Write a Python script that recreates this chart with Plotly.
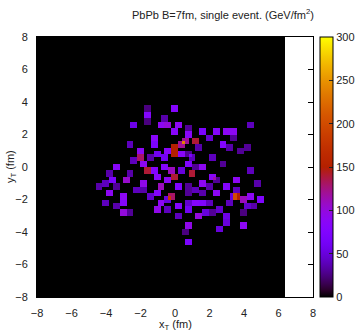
import numpy as np
import plotly.graph_objects as go

# Energy-density blocks (centre x, centre y in fm, value in GeV/fm^2); each block is 0.4 x 0.4 fm
block_x = [0.0, -1.6, -1.6, -2.4, -0.6, -0.8, -0.4, 0.2, 0.8, 0.0, 1.6, 2.4, 3.0, 3.4, 3.4,
           2.8, 3.2, 3.8, 4.2, 4.4,
           0.6, 0.4, 0.0, 0.0, -0.4, 0.4, 0.8, 1.2, 1.4, -1.2, -1.2, -2.0, -2.0, -2.4, -1.8,
           -1.4, -1.0, -0.6, 0.8, 1.6, 1.2, -0.6, -0.2, -1.2, -1.6, -3.4, -3.8, 2.8, 4.4, 0.8,
           -3.6, -2.8, -4.4, -3.8, -3.4, -3.0, -3.0, -3.0, -2.6, -1.8, -1.8,
           -1.0, -0.8, -0.4, 0.0, 1.0, 0.8, 0.2, -0.2, -0.4, -0.8, -1.0, -1.0, 0.2, 0.8, 1.2,
           1.6, 0.8, 1.4, 0.8, 0.6, 0.8, 1.6, 2.2, 1.6, 2.4, 2.2, 0.8,
           3.6, 3.0, 3.6, 3.4, 3.6, 4.4, 4.0, 4.2, 4.6, 4.8, 5.0, 2.6, 3.0, 3.0, 4.0, 4.0, 2.6,
           -1.6, 2.0, 2.2, -2.6, 0.4, 1.2, -1.4, -2.2, 2.0, 1.8, -0.4, 0.2, 3.2, -3.4, -4.0,
           -4.0, 2.0, 2.4, 1.0, -2.6]
block_y = [3.6, 3.2, 3.6, 2.6, 3.0, 2.6, 2.6, 2.6, 2.4, 2.2, 2.2, 2.2, 2.2, 2.2, 1.8,
           1.4, 1.2, 1.0, 1.2, 2.6,
           1.6, 1.4, 1.2, 0.8, 1.0, 0.8, 2.0, 1.6, 1.2, 1.8, 1.4, 1.0, 0.6, 0.4, 0.2,
           0.6, 0.8, 0.6, 0.2, 0.0, 0.0, 0.0, -0.2, -0.2, -0.2, 0.0, -0.4, 0.2, -0.2, 0.8,
           -0.8, -0.8, -1.2, -1.6, -1.2, -1.8, -2.2, -2.8, -2.8, -1.0, -1.4,
           -0.6, -1.2, -0.8, -0.6, -0.4, -1.2, -1.2, -1.8, -2.0, -2.2, -2.6, -1.6, -2.4, -2.2, -2.2,
           -2.2, -2.6, -3.0, -3.6, -4.0, -4.6, -1.0, -0.6, -1.6, -1.6, -2.8, -1.6,
           -0.8, -1.2, -1.8, -1.8, -1.4, -1.8, -2.0, -2.4, -2.4, -1.0, -2.0, -2.6, -3.0, -3.4, -2.8, -3.6, -3.8,
           2.8, 1.8, 0.6, 1.4, -0.2, -1.4, -1.8, -1.4, -2.2, -2.8, -2.6, -3.0, -2.2, -2.4, -2.2,
           -1.0, -1.2, -0.8, 0.6, -0.4]
block_v = [80, 80, 25, 55, 35, 90, 100, 90, 30, 85, 70, 80, 90, 90, 30,
           80, 35, 30, 30, 40,
           120, 120, 150, 150, 85, 85, 85, 140, 35, 85, 70, 90, 130, 40, 90,
           35, 60, 60, 75, 90, 30, 80, 110, 80, 140, 85, 35, 30, 40, 30,
           70, 105, 35, 90, 30, 90, 80, 100, 30, 95, 35,
           85, 110, 90, 140, 140, 30, 75, 130, 50, 90, 95, 80, 80, 45, 80,
           75, 60, 100, 95, 25, 70, 90, 85, 35, 90, 30, 30,
           90, 80, 150, 50, 40, 90, 110, 45, 35, 35, 75, 45, 55, 50, 25, 90, 50,
           25, 45, 40, 40, 50, 40, 45, 40, 40, 50, 40, 40, 40, 35, 40,
           40, 35, 30, 40, 35]

cb_ticks = [0, 50, 100, 150, 200, 250, 300]
x_ticks = [-8, -6, -4, -2, 0, 2, 4, 6, 8]
y_ticks = [-8, -6, -4, -2, 0, 2, 4, 6, 8]

# grid of 0.2 fm cells: x from -8 to 6.4, y from -8 to 8
nx, ny = 72, 80
xc = -7.9 + 0.2 * np.arange(nx)
yc = -7.9 + 0.2 * np.arange(ny)
z = np.zeros((ny, nx))
for bx, by, bv in zip(block_x, block_y, block_v):
    i0 = int(round((bx - 0.1 + 7.9) / 0.2))
    j0 = int(round((by - 0.1 + 7.9) / 0.2))
    z[j0:j0 + 2, i0:i0 + 2] += bv

# gnuplot default palette (rgbformulae 7,5,15)
ts = np.linspace(0, 1, 41)
cscale = []
for t in ts:
    r = np.sqrt(t)
    g = t ** 3
    b = max(np.sin(2 * np.pi * t), 0.0)
    cscale.append([float(t), f"rgb({int(round(255*r))},{int(round(255*g))},{int(round(255*b))})"])

font = dict(family="Liberation Sans, Arial, sans-serif", size=11, color="#222")

fig = go.Figure(go.Heatmap(
    x=xc, y=yc, z=z, zmin=0, zmax=300, colorscale=cscale, zsmooth=False,
    colorbar=dict(x=1.0254, xanchor="left", xpad=0, y=0.5, yanchor="middle", ypad=0,
                  len=1, lenmode="fraction", thickness=13, outlinewidth=1, outlinecolor="black",
                  tickvals=cb_ticks, ticks="inside", ticklen=4, tickcolor="#222",
                  tickfont=font)))

ax = dict(range=[-8, 8], tickvals=x_ticks, ticks="inside", ticklen=5, tickcolor="black",
          showline=True, linecolor="black", linewidth=1, mirror="ticks", showgrid=False,
          zeroline=False, tickfont=font, automargin=False)
fig.update_layout(
    width=364, height=334, margin=dict(l=37, r=51, t=37, b=37, autoexpand=False),
    paper_bgcolor="white", plot_bgcolor="white", font=font,
    xaxis=dict(ax, ticklabelstandoff=6),
    yaxis=dict(ax, tickvals=y_ticks, ticklabelstandoff=6),
    annotations=[
        dict(text="PbPb B=7fm, single event. (GeV/fm<sup>2</sup>)", xref="paper", yref="paper",
             x=1.011, y=1.088, xanchor="right", yanchor="middle", showarrow=False, font=font),
        dict(text="x<sub>T</sub> (fm)", xref="paper", yref="paper", x=0.5, y=-0.108,
             xanchor="center", yanchor="middle", showarrow=False, font=font),
        dict(text="y<sub>T</sub> (fm)", xref="paper", yref="paper", x=-0.094, y=0.5,
             xanchor="center", yanchor="middle", textangle=-90, showarrow=False, font=font),
    ],
)
fig.write_html("out.html")
